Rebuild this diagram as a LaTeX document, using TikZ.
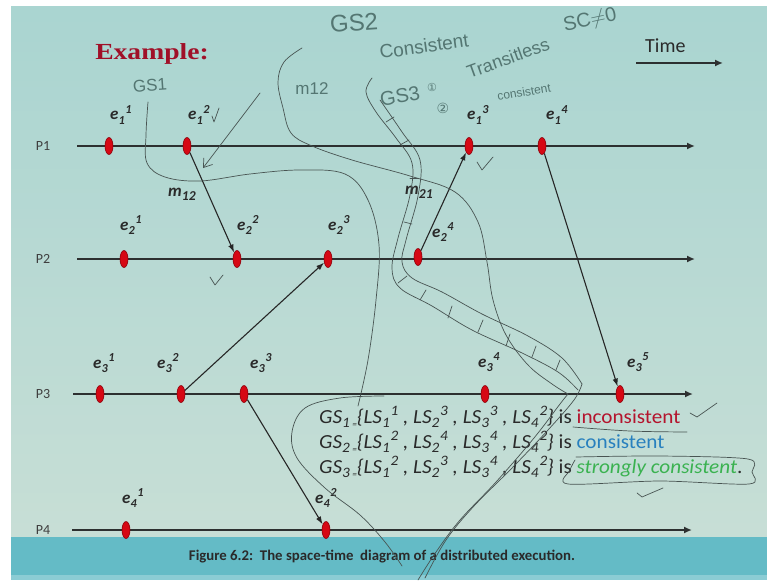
\documentclass[tikz,border=0pt]{standalone}
\usepackage{fontspec}
\setmainfont{Carlito}
\newfontfamily\gsfont[FakeStretch=1.06]{Carlito}
\newfontfamily\exfont[FakeStretch=1.2]{Liberation Serif}
\newfontfamily\handfont{Liberation Sans}
\newfontfamily\symfont{DejaVu Sans}
\usepackage{xcolor}
\usepackage{tikz}
\usetikzlibrary{shapes.geometric,arrows.meta,positioning,calc}

\definecolor{bgteal}{RGB}{170,213,209}
\definecolor{bgpale}{RGB}{224,231,219}
\definecolor{bandteal}{RGB}{100,187,198}
\definecolor{evred}{RGB}{214,8,20}
\definecolor{evedge}{RGB}{140,0,10}
\definecolor{procgray}{RGB}{45,48,48}
\definecolor{exred}{RGB}{160,16,40}
\definecolor{incred}{RGB}{180,20,45}
\definecolor{conblue}{RGB}{40,128,190}
\definecolor{strgreen}{RGB}{58,178,80}
\definecolor{pencol}{RGB}{72,84,82}
\definecolor{handcol}{RGB}{84,118,114}
\definecolor{ink}{RGB}{42,42,42}

\newcommand{\subsup}[2]{\raisebox{-0.24em}{\scalebox{0.72}{#1}}\kern0.04em\raisebox{0.40em}{\scalebox{0.72}{#2}}}
\newcommand{\ev}[2]{e\subsup{#1}{#2}}
\newcommand{\lsx}[2]{LS\subsup{#1}{#2}}
\newcommand{\gsx}[1]{GS\raisebox{-0.24em}{\scalebox{0.72}{#1\,\scalebox{0.6}{=}}}}
\newcommand{\msub}[1]{m\raisebox{-0.26em}{\scalebox{0.8}{#1}}}

\begin{document}
\begin{tikzpicture}[
        x=1pt, y=-1pt,
        event/.style={
            ellipse,
            fill=evred,
            draw=evedge,
            line width=0.6pt,
            minimum width=8pt,
            minimum height=17pt,
            inner sep=0pt
        },
        evlbl/.style={
            anchor=base west,
            inner sep=0pt,
            text=ink,
            font=\fontsize{17}{20}\selectfont\bfseries\itshape
        },
        procline/.style={
            draw=procgray,
            line width=2.4pt,
            -{Latex[length=8pt,width=7pt]}
        },
        msg/.style={
            draw=black!85,
            line width=1.1pt,
            -{Latex[length=8pt,width=5.5pt]}
        },
        plbl/.style={
            text=ink!90,
            font=\fontsize{14}{16}\selectfont
        },
        gsline/.style={
            anchor=base west,
            inner sep=0pt,
            text=ink,
            font=\gsfont\fontsize{20}{22}\selectfont
        },
        pen/.style={
            draw=pencol,
            line width=0.7pt,
            line cap=round,
            line join=round
        },
        hand/.style={
            text=handcol,
            inner sep=0pt,
            font=\handfont
        }
    ]
        \useasboundingbox (0,0) rectangle (767,580);

        % Slide background
        \fill[white] (0,0) rectangle (767,580);
        \shade[left color=bgteal, middle color=bgpale, right color=bgteal] (11,7) rectangle (767,537);
        \shade[top color=bgteal, bottom color=bgpale, opacity=0.55] (11,7) rectangle (767,537);
        \fill[bandteal] (11,537) rectangle (767,580);
        \fill[bandteal!75!white] (11,575) rectangle (767,580);

        % Title and time axis
        \node[text=exred, font=\exfont\bfseries\fontsize{23}{26}\selectfont] (title) at (152,54) {Example:};
        \node[anchor=base west, inner sep=0pt, text=ink, font=\fontsize{20}{22}\selectfont] (time) at (645,53) {Time};
        \coordinate (ts) at (636,63);
        \coordinate (te) at (723,63);
        \draw[procline] (ts) -- (te);

        % Process lines
        \node[plbl] (P1) at (43,146) {P1};
        \node[plbl] (P2) at (43,259) {P2};
        \node[plbl] (P3) at (43,394) {P3};
        \node[plbl] (P4) at (43,530) {P4};
        \coordinate (p1s) at (77,146);  \coordinate (p1e) at (695,146);
        \coordinate (p2s) at (77,259);  \coordinate (p2e) at (695,259);
        \coordinate (p3s) at (73,394);  \coordinate (p3e) at (693,394);
        \coordinate (p4s) at (72,530);  \coordinate (p4e) at (692,530);
        \draw[procline] (p1s) -- (p1e);
        \draw[procline] (p2s) -- (p2e);
        \draw[procline] (p3s) -- (p3e);
        \draw[procline] (p4s) -- (p4e);

        % Events
        \node[event] (e11) at (109,146) {};
        \node[event] (e12) at (187,146) {};
        \node[event] (e13) at (469,146) {};
        \node[event] (e14) at (542,146) {};
        \node[event] (e21) at (124,259) {};
        \node[event] (e22) at (237,259) {};
        \node[event] (e23) at (328,259) {};
        \node[event] (e24) at (418,257) {};
        \node[event] (e31) at (100,394) {};
        \node[event] (e32) at (181,394) {};
        \node[event] (e33) at (244,394) {};
        \node[event] (e34) at (485,394) {};
        \node[event] (e35) at (620,394) {};
        \node[event] (e41) at (126,530) {};
        \node[event] (e42) at (326,530) {};

        % Event labels
        \node[evlbl] (l11) at ([xshift=1pt, yshift=26pt]e11.center) {\ev{1}{1}};
        \node[evlbl] (l12) at ([xshift=1pt, yshift=26pt]e12.center) {\ev{1}{2}};
        \node[evlbl] (l13) at ([xshift=-2pt, yshift=26pt]e13.center) {\ev{1}{3}};
        \node[evlbl] (l14) at ([xshift=4pt, yshift=26pt]e14.center) {\ev{1}{4}};
        \node[evlbl] (l21) at ([xshift=-4pt, yshift=29pt]e21.center) {\ev{2}{1}};
        \node[evlbl] (l22) at ([xshift=0pt, yshift=29pt]e22.center) {\ev{2}{2}};
        \node[evlbl] (l23) at ([xshift=0pt, yshift=29pt]e23.center) {\ev{2}{3}};
        \node[evlbl] (l24) at ([xshift=14pt, yshift=20pt]e24.center) {\ev{2}{4}};
        \node[evlbl] (l31) at ([xshift=-7pt, yshift=26pt]e31.center) {\ev{3}{1}};
        \node[evlbl] (l32) at ([xshift=-24pt, yshift=26pt]e32.center) {\ev{3}{2}};
        \node[evlbl] (l33) at ([xshift=6pt, yshift=26pt]e33.center) {\ev{3}{3}};
        \node[evlbl] (l34) at ([xshift=-7pt, yshift=27pt]e34.center) {\ev{3}{4}};
        \node[evlbl] (l35) at ([xshift=7pt, yshift=27pt]e35.center) {\ev{3}{5}};
        \node[evlbl] (l41) at ([xshift=-4pt, yshift=27pt]e41.center) {\ev{4}{1}};
        \node[evlbl] (l42) at ([xshift=-11pt, yshift=27pt]e42.center) {\ev{4}{2}};

        % Messages
        \draw[msg] (e12) -- (e22);
        \draw[msg] (e24) -- (e13);
        \draw[msg] (e32) -- (e23);
        \draw[msg] (e33) -- (e42);
        \draw[msg] (e14) -- (e35);
        \node[evlbl] (m12) at (168,196) {\msub{12}};
        \node[evlbl] (m21) at (405,194) {\msub{21}};

        % Global states
        \node[gsline] (gs1) at (319,423) {\textit{\gsx{1}\{\lsx{1}{1} , \lsx{2}{3} , \lsx{3}{3} , \lsx{4}{2}\}} is \textcolor{incred}{inconsistent}};
        \node[gsline] (gs2) at (319,448) {\textit{\gsx{2}\{\lsx{1}{2} , \lsx{2}{4} , \lsx{3}{4} , \lsx{4}{2}\}} is \textcolor{conblue}{consistent}};
        \node[gsline] (gs3) at (319,473) {\textit{\gsx{3}\{\lsx{1}{2} , \lsx{2}{3} , \lsx{3}{4} , \lsx{4}{2}\}} is \textcolor{strgreen}{\textit{strongly consistent}}.};

        % Caption
        \node[text=ink, font=\fontsize{14.8}{16}\selectfont\bfseries] (caption) at (382,557) {Figure 6.2:\ \ The space-time\ \ diagram of a distributed execution.};

        % Handwritten notes
        \node[hand, font=\handfont\fontsize{17}{17}\selectfont, rotate=4] (hgs1) at (150,85) {GS1};
        \node[hand, font=\handfont\fontsize{17}{17}\selectfont] (hm12) at (312,89) {m12};
        \node[hand, font=\handfont\fontsize{24}{24}\selectfont, rotate=4] (hgs2) at (354,23) {GS2};
        \node[hand, font=\handfont\fontsize{19}{19}\selectfont, rotate=8] (hcons) at (424,46) {Consistent};
        \node[hand, font=\handfont\fontsize{20}{20}\selectfont, rotate=12] (hsc) at (590,21) {SC$\neq$0};
        \node[hand, font=\handfont\fontsize{20}{20}\selectfont, rotate=10] (hgs3) at (400,96) {GS3};
        \node[hand, font=\symfont\fontsize{11}{11}\selectfont] (hone) at (432,87) {①};
        \node[hand, font=\symfont\fontsize{14}{14}\selectfont] (htwo) at (443,108) {②};
        \node[hand, font=\handfont\fontsize{18}{18}\selectfont, rotate=20] (htrans) at (508,58) {Transitless};
        \node[hand, font=\handfont\fontsize{12}{12}\selectfont, rotate=10] (hsmall) at (524,92) {consistent};

        % Hand arrow towards m12
        \coordinate (ha) at (260,93);
        \coordinate (hb) at (203,168);
        \draw[pen, -{Straight Barb[length=8pt,width=11pt]}] (ha) -- (hb);

        % Cut of GS1
        \draw[pen] plot[smooth, tension=0.6] coordinates {(148,102) (146,135) (147,163) (165,177) (200,181) (250,174) (300,170) (345,174) (368,200) (379,245) (376,300) (368,360) (358,406)};
        \draw[pen] plot[smooth, tension=0.6] coordinates {(384,396) (340,398) (305,408) (292,432) (297,458) (325,488) (360,515) (385,542) (402,566)};

        % Cut of GS2
        \draw[pen] plot[smooth, tension=0.6] coordinates {(302,48) (284,62) (278,82) (283,108) (291,133) (312,146) (352,160) (410,176) (455,192) (478,222) (487,262) (493,300) (506,335) (528,365) (552,384) (568,394)};

        % Cut of GS3 (hatched band)
        \draw[pen] plot[smooth, tension=0.6] coordinates {(372,78) (366,92) (376,112) (396,138) (412,163) (410,195) (398,238) (392,268) (400,288) (432,306) (472,330) (520,352) (558,372) (578,390)};
        \draw[pen] plot[smooth, tension=0.6] coordinates {(380,100) (402,132) (420,160) (418,196) (406,240) (402,262) (412,278) (442,292) (482,314) (528,336) (562,358) (582,384)};
        \foreach \a/\b in {{(386,122)}/{(394,117)}, {(400,145)}/{(409,140)}, {(410,178)}/{(418,178)}, {(404,222)}/{(412,224)}, {(398,283)}/{(407,276)}, {(420,300)}/{(426,290)}, {(448,318)}/{(452,306)}, {(478,332)}/{(483,320)}, {(506,346)}/{(510,334)}, {(532,357)}/{(536,346)}, {(556,370)}/{(560,360)}}
            \draw[pen] \a -- \b;
        \draw[pen] plot[smooth, tension=0.6] coordinates {(582,384) (574,400) (548,430) (512,468) (474,506) (446,540) (425,578)};
        \draw[pen] plot[smooth, tension=0.6] coordinates {(568,394) (560,404) (534,438) (496,482) (460,520) (436,552) (418,580)};

        % Ticks, underline and box
        \draw[pen] (212,116) -- (214,122) -- (219,108);
        \draw[pen] (477,162) -- (482,170) -- (493,157);
        \draw[pen] (210,277) -- (215,285) -- (223,275);
        \draw[pen] (690,413) -- (697,417) -- (717,403);
        \draw[pen] (637,493) -- (642,497) -- (663,488);
        \draw[pen] plot[smooth, tension=0.6] coordinates {(573,427) (630,431) (687,432)};
        \draw[pen] plot[smooth, tension=0.5] coordinates {(576,457) (660,456) (748,459) (752,472) (749,484) (660,481) (568,484) (570,470) (575,460)};
    \end{tikzpicture}
\end{document}
